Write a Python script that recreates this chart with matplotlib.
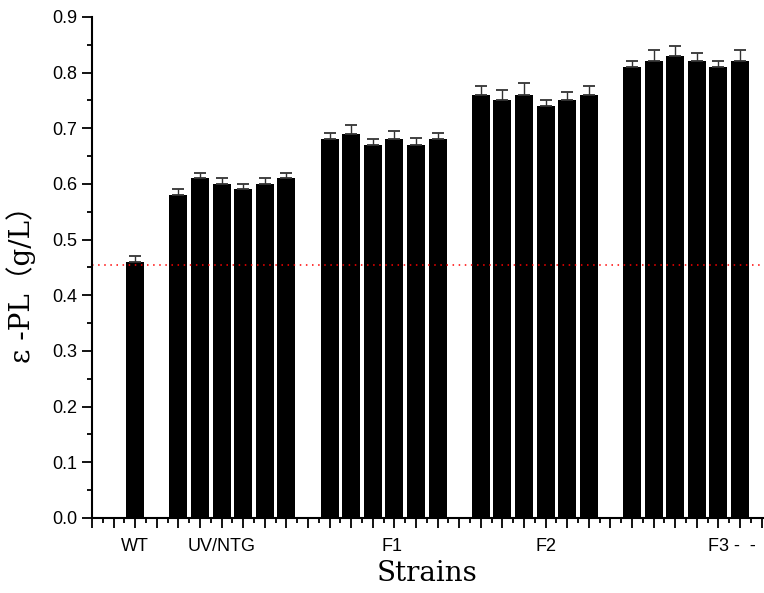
import matplotlib.pyplot as plt
import numpy as np

# Strains and measured e-PL yield (g/L), upper error only
groups = ['WT', 'UV/NTG', 'F1', 'F2', 'F3']
wt = [0.46]
uv_ntg = [0.58, 0.61, 0.60, 0.59, 0.60, 0.61]
f1 = [0.68, 0.69, 0.67, 0.68, 0.67, 0.68]
f2 = [0.76, 0.75, 0.76, 0.74, 0.75, 0.76]
f3 = [0.81, 0.82, 0.83, 0.82, 0.81, 0.82]

wt_err = [0.01]
uv_ntg_err = [0.01, 0.01, 0.01, 0.01, 0.01, 0.01]
f1_err = [0.012, 0.015, 0.011, 0.015, 0.012, 0.011]
f2_err = [0.016, 0.019, 0.022, 0.01, 0.015, 0.016]
f3_err = [0.011, 0.02, 0.017, 0.015, 0.011, 0.02]

wt_level = 0.455  # red reference line

# tick label text and where it sits on the x axis
tick_labels = ['WT', 'UV/NTG', 'F1', 'F2', 'F3 -  -']
tick_label_pos = [1, 5, 12.9, 20, 27.5]

series = [wt, uv_ntg, f1, f2, f3]
errors = [wt_err, uv_ntg_err, f1_err, f2_err, f3_err]

# bar positions: one empty slot between groups
pos, vals, errs = [], [], []
x = 1
for s, e in zip(series, errors):
    for v, er in zip(s, e):
        pos.append(x)
        vals.append(v)
        errs.append(er)
        x += 1
    x += 1

fig = plt.figure(figsize=(7.64, 5.93), dpi=100)
ax = fig.add_axes([0.1204, 0.1265, 0.9047, 0.845])

ax.bar(pos, vals, width=0.84, color='black', edgecolor='black', linewidth=0,
       yerr=[np.zeros(len(errs)), errs], capsize=4.5,
       error_kw=dict(ecolor='#333333', elinewidth=1.0, capthick=1.3))

ax.axhline(wt_level, color='red', linestyle=(0, (1, 3)), linewidth=1.1)

ax.set_xlim(-1, 31)
ax.set_ylim(0, 0.9)

ax.spines['top'].set_visible(False)
ax.spines['right'].set_visible(False)
ax.spines['left'].set_linewidth(1.5)
ax.spines['bottom'].set_linewidth(1.5)

ax.set_yticks(np.arange(0, 0.91, 0.1))
ax.set_yticks(np.arange(0.05, 0.9, 0.1), minor=True)
ax.set_yticklabels(['%.1f' % t for t in np.arange(0, 0.91, 0.1)],
                   fontsize=13, family='Liberation Sans')
ax.set_xticks(np.arange(-1, 32, 1))
ax.set_xticks(np.arange(-0.5, 31, 1), minor=True)
ax.set_xticklabels([])
ax.tick_params(axis='both', which='major', direction='out', length=7, width=1.3, pad=3.5)
ax.tick_params(axis='both', which='minor', direction='out', length=3.5, width=1.3)

for lab, p in zip(tick_labels, tick_label_pos):
    ha = 'left' if lab.startswith('F3') else 'center'
    ax.text(p, -0.04, lab, transform=ax.get_xaxis_transform(), ha=ha, va='top',
            fontsize=13, family='Liberation Sans')

ax.set_xlabel('Strains', fontsize=20, family=['DejaVu Serif'])
ax.xaxis.set_label_coords(0.485, -0.084)
ax.set_ylabel('ε -PL（g/L）', fontsize=20, family=['DejaVu Serif', 'Noto Sans CJK SC'])
ax.yaxis.set_label_coords(-0.081, 0.479)

fig.savefig('out.png', dpi=100)
